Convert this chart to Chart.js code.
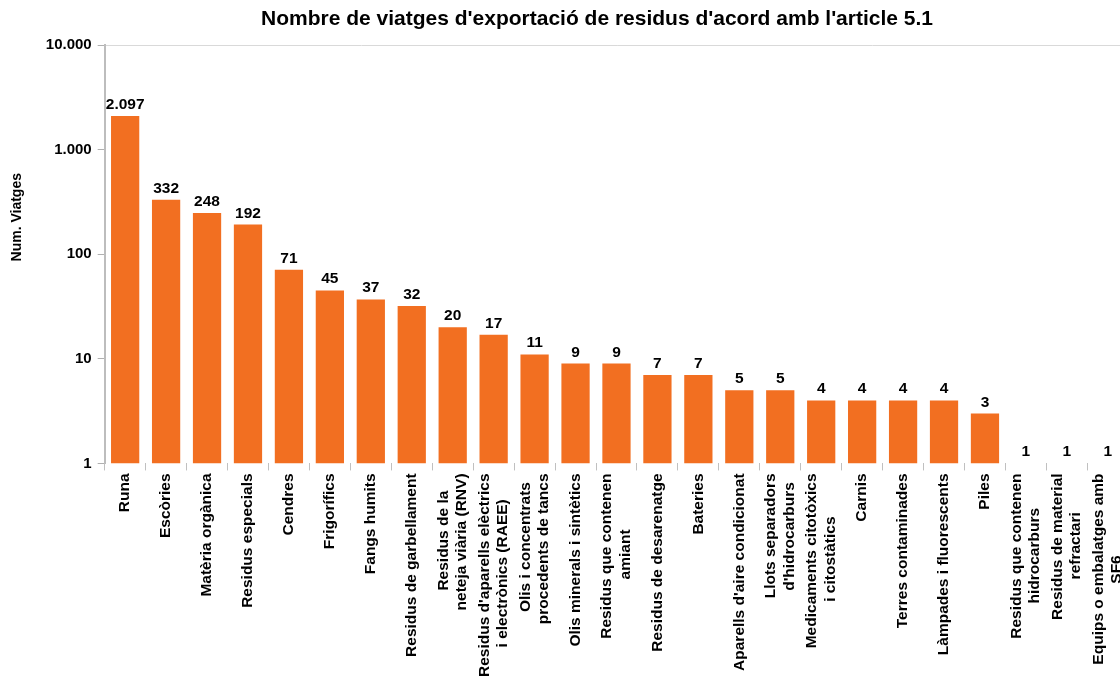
<!DOCTYPE html>
<html>
<head>
<meta charset="utf-8">
<script src="https://cdn.jsdelivr.net/npm/chart.js@4/dist/chart.umd.min.js"></script>
<style>
html,body{margin:0;padding:0;background:#fff;overflow:hidden}
#wrap{width:1148px;height:680px;position:relative}
</style>
</head>
<body>
<div id="wrap"><canvas id="c"></canvas></div>
<script>
const chartTitle = "Nombre de viatges d'exportació de residus d'acord amb l'article 5.1";
const yAxisTitle = "Num. Viatges";
const categories = [
  ["Runa"], ["Escòries"], ["Matèria orgànica"], ["Residus especials"], ["Cendres"],
  ["Frigorífics"], ["Fangs humits"], ["Residus de garbellament"],
  ["Residus de la", "neteja viària (RNV)"],
  ["Residus d'aparells elèctrics", "i electrònics (RAEE)"],
  ["Olis i concentrats", "procedents de tancs"],
  ["Olis minerals i sintètics"],
  ["Residus que contenen", "amiant"],
  ["Residus de desarenatge"], ["Bateries"], ["Aparells d'aire condicionat"],
  ["Llots separadors", "d'hidrocarburs"],
  ["Medicaments citotòxics", "i citostàtics"],
  ["Carnis"], ["Terres contaminades"], ["Làmpades i fluorescents"], ["Piles"],
  ["Residus que contenen", "hidrocarburs"],
  ["Residus de material", "refractari"],
  ["Equips o embalatges amb", "SF6"]
];
const trips = [2097, 332, 248, 192, 71, 45, 37, 32, 20, 17, 11, 9, 9, 7, 7, 5, 5, 4, 4, 4, 4, 3, 1, 1, 1];
const yTicks = [1, 10, 100, 1000, 10000];

const FONT = '"Liberation Sans", Arial, sans-serif';
const LABEL_SIZE = 15.5;
const fmt = v => String(v).replace(/\B(?=(\d{3})+(?!\d))/g, '.');

const mctx = document.createElement('canvas').getContext('2d');
function centerLines(lines) {
  mctx.font = 'bold ' + LABEL_SIZE + 'px ' + FONT;
  if (lines.length < 2) return lines.slice();
  const sp = mctx.measureText(' ').width;
  const widths = lines.map(l => mctx.measureText(l).width);
  const maxW = Math.max(...widths);
  return lines.map((l, i) => l + ' '.repeat(Math.round((maxW - widths[i]) / 2 / sp)));
}
const xLabels = categories.map(centerLines);

mctx.font = 'bold 14px ' + FONT;
const yTitleText = ' '.repeat(Math.round(72 / mctx.measureText(' ').width)) + yAxisTitle;

const tweaks = {
  id: 'tweaks',
  afterLayout(chart) {
    if (chart.titleBlock) chart.titleBlock.left += 41;
  },
  beforeDraw(chart) {
    const s = chart.scales.x;
    const lh = LABEL_SIZE * 1.2;
    s.getLabelItems().forEach(it => {
      if (!it._c && Array.isArray(it.label) && it.label.length > 1) {
        it.options.translation[0] -= (it.label.length - 1) * lh / 2;
        it._c = true;
      }
    });
  },
  afterDatasetsDraw(chart) {
    const ctx = chart.ctx;
    const meta = chart.getDatasetMeta(0);
    ctx.save();
    ctx.font = 'bold ' + LABEL_SIZE + 'px ' + FONT;
    ctx.fillStyle = '#000';
    ctx.textAlign = 'center';
    ctx.textBaseline = 'alphabetic';
    meta.data.forEach((bar, i) => {
      ctx.fillText(fmt(trips[i]), bar.x, bar.y - 7);
    });
    ctx.restore();
  }
};

new Chart(document.getElementById('c'), {
  type: 'bar',
  data: {
    labels: xLabels,
    datasets: [{
      data: trips,
      backgroundColor: '#F26F21',
      borderWidth: 0,
      barPercentage: 0.69,
      categoryPercentage: 1.0
    }]
  },
  plugins: [tweaks],
  options: {
    responsive: true,
    maintainAspectRatio: false,
    animation: false,
    layout: { padding: { top: 0, left: 5, right: 0, bottom: 0 } },
    plugins: {
      legend: { display: false },
      tooltip: { enabled: false },
      title: {
        display: true,
        text: chartTitle,
        color: '#000',
        font: { family: FONT, size: 21, weight: 'bold' },
        padding: { top: 7, bottom: 12.8 }
      }
    },
    scales: {
      x: {
        offset: true,
        grid: {
          display: true,
          offset: true,
          drawOnChartArea: false,
          tickLength: 7,
          tickColor: '#c0c0c0',
          tickWidth: 1
        },
        border: { display: false },
        ticks: {
          autoSkip: false,
          maxRotation: 90,
          minRotation: 90,
          padding: 3,
          color: '#000',
          font: { family: FONT, size: LABEL_SIZE, weight: 'bold' }
        }
      },
      y: {
        type: 'logarithmic',
        min: 1,
        max: 10000,
        afterBuildTicks: s => { s.ticks = yTicks.map(v => ({ value: v, major: true })); },
        title: {
          display: true,
          text: yTitleText,
          color: '#000',
          font: { family: FONT, size: 14, weight: 'bold' },
          padding: { top: 4, bottom: 14 }
        },
        grid: {
          color: c => (c.tick && c.tick.value === 10000) ? '#d9d9d9' : 'rgba(0,0,0,0)',
          tickColor: '#b0b0b0',
          tickLength: 7,
          drawTicks: true
        },
        border: { display: true, color: '#bdbdbd', width: 2 },
        ticks: {
          padding: 6,
          color: '#000',
          font: { family: FONT, size: 15, weight: 'bold' },
          callback: v => fmt(v)
        }
      }
    }
  }
});
</script>
</body>
</html>
